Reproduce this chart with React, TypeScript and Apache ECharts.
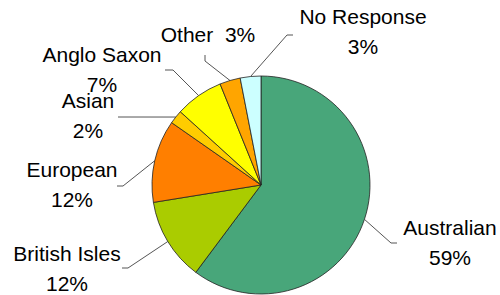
import React, { useEffect, useRef } from "react";
import * as echarts from "echarts";

const categories = ["Australian", "British Isles", "European", "Asian", "Anglo Saxon", "Other", "No Response"];
const values = [59, 12, 12, 2, 7, 3, 3];
const colors = ["#48A67A", "#AACC00", "#FF7F00", "#FFCC00", "#FFFF00", "#FFA500", "#CCFFFF"];

// label placement (text block centre) and leader-line elbow points, per slice
const labelPos: Record<string, { x: number; y: number; p2: number[]; p3: number[] }> = {
  "Australian": { x: 450, y: 242, p2: [391, 243], p3: [397, 243] },
  "British Isles": { x: 67, y: 268, p2: [128, 268], p3: [122, 268] },
  "European": { x: 72, y: 184, p2: [123, 186], p3: [117, 186] },
  "Asian": { x: 88, y: 115, p2: [125, 117], p3: [118, 117] },
  "Anglo Saxon": { x: 102, y: 69, p2: [173, 70], p3: [165, 70] },
  "Other": { x: 208, y: 34, p2: [205, 61], p3: [205, 55] },
  "No Response": { x: 363, y: 31, p2: [287, 35], p3: [293, 35] },
};

export default function App() {
  const ref = useRef<HTMLDivElement>(null);
  useEffect(() => {
    if (!ref.current) return;
    const chart = echarts.init(ref.current, undefined, { renderer: "svg" });
    chart.setOption({
      animation: false,
      backgroundColor: "#ffffff",
      series: [
        {
          type: "pie",
          center: [261, 185],
          radius: 109,
          startAngle: 90,
          clockwise: true,
          avoidLabelOverlap: false,
          data: categories.map((name, i) => ({
            name,
            value: values[i],
            itemStyle: { color: colors[i] },
          })),
          itemStyle: { borderColor: "#222", borderWidth: 0.8 },
          label: {
            show: true,
            position: "outside",
            fontFamily: "Liberation Sans, Arial, sans-serif",
            fontSize: 21,
            lineHeight: 30,
            color: "#000",
            align: "center",
            formatter: (p: any) => (p.name === "Other" ? `${p.name}  ${p.value}%` : `${p.name}\n${p.value}%`),
          },
          labelLine: { show: true, lineStyle: { color: "#555", width: 1 }, length: 20, length2: 6 },
          labelLayout: (params: any) => {
            const name = categories[params.dataIndex];
            const lp = labelPos[name];
            const pts = params.labelLinePoints;
            return {
              x: lp.x,
              y: lp.y,
              align: "center",
              verticalAlign: "middle",
              labelLinePoints: [pts ? pts[0] : lp.p2, lp.p2, lp.p3],
            };
          },
        },
      ],
    });
    return () => chart.dispose();
  }, []);
  return <div ref={ref} style={{ width: 500, height: 295, position: "absolute", left: 0, top: 0 }} />;
}
